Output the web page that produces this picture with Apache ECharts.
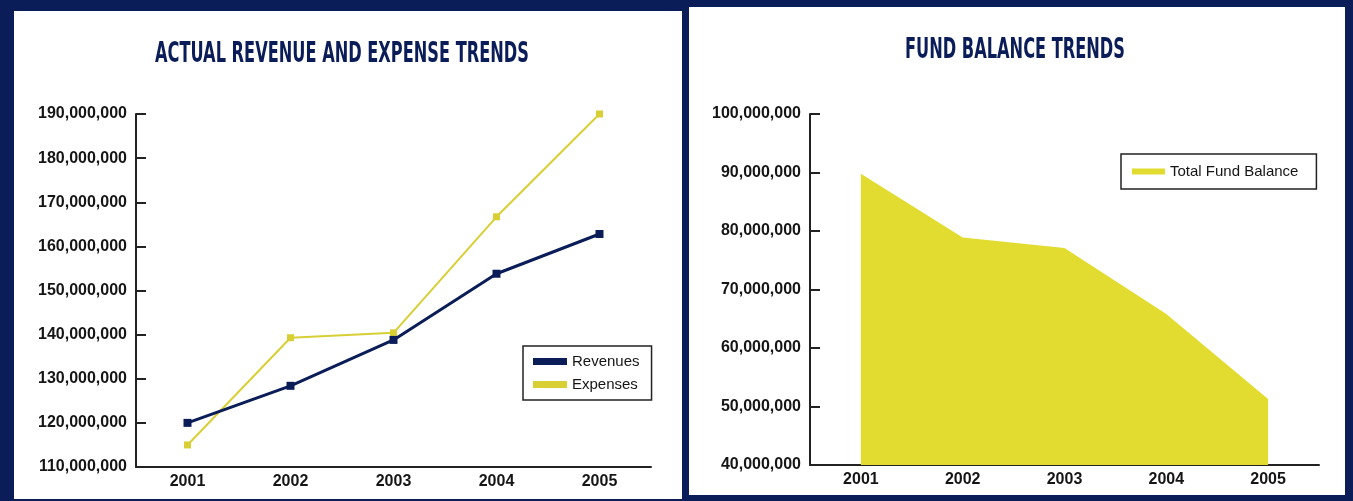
<!DOCTYPE html>
<html>
<head>
<meta charset="utf-8">
<script src="https://cdn.jsdelivr.net/npm/echarts@6/dist/echarts.min.js"></script>
<style>
  html, body { margin: 0; padding: 0; background: #0b1d58; }
  .panel { position: absolute; background: #fff; }
  #main { position: absolute; left: 0; top: 0; width: 1353px; height: 501px; }
</style>
</head>
<body>
<div class="panel" style="left:14px;top:11px;width:668px;height:488px"></div>
<div class="panel" style="left:689px;top:7px;width:656px;height:488px"></div>
<div id="main"></div>
<script>
// data
var years = ['2001', '2002', '2003', '2004', '2005'];
var revenues = [120000000, 128400000, 138800000, 153800000, 162800000];
var expenses = [115000000, 139300000, 140400000, 166700000, 190000000];
var fundBalance = [89800000, 78900000, 77100000, 65800000, 51300000];
var leftTicks = [110000000, 190000000, 10000000];   // min, max, step
var rightTicks = [40000000, 100000000, 10000000];

var navy = '#0b1d58';
var yellowLine = '#d8cf35';
var yellowArea = '#e2dc30';
var labelFont = { color: '#151515', fontSize: 16, fontWeight: 'bold', fontFamily: 'Liberation Sans, Arial, sans-serif' };

function commas(v) {
    return String(v).replace(/\B(?=(\d{3})+(?!\d))/g, ',');
}

var myChart = echarts.init(document.getElementById('main'), null, { renderer: 'canvas' });

function xAxisFor(gridIndex) {
    return {
        type: 'category',
        gridIndex: gridIndex,
        data: years,
        boundaryGap: true,
        axisLine: { lineStyle: { color: '#222', width: 2 } },
        axisTick: { inside: true, length: 7, lineStyle: { color: '#222', width: 2 } },
        axisLabel: Object.assign({ margin: 7 }, labelFont)
    };
}

function yAxisFor(gridIndex, ticks) {
    return {
        type: 'value',
        gridIndex: gridIndex,
        min: ticks[0],
        max: ticks[1],
        interval: ticks[2],
        splitLine: { show: false },
        axisLine: { show: true, lineStyle: { color: '#222', width: 2 } },
        axisTick: { show: true, inside: true, length: 10, lineStyle: { color: '#222', width: 2 } },
        axisLabel: Object.assign({ margin: 9, formatter: commas }, labelFont)
    };
}

function titleText(text, x, y) {
    return {
        type: 'text',
        x: x,
        y: y,
        scaleY: 1.6,
        style: {
            text: text,
            x: 0,
            y: 0,
            align: 'center',
            verticalAlign: 'middle',
            fill: navy,
            font: 'bold 18px "DejaVu Sans Condensed", sans-serif'
        }
    };
}

var option = {
    backgroundColor: 'transparent',
    animation: false,
    graphic: [
        titleText('ACTUAL REVENUE AND EXPENSE TRENDS', 342, 55),
        titleText('FUND BALANCE TRENDS', 1015, 51)
    ],
    grid: [
        { left: 136, top: 114, width: 515, height: 353 },
        { left: 810, top: 114, width: 509, height: 351 }
    ],
    xAxis: [xAxisFor(0), xAxisFor(1)],
    yAxis: [yAxisFor(0, leftTicks), yAxisFor(1, rightTicks)],
    legend: [
        {
            data: ['Revenues', 'Expenses'],
            orient: 'vertical',
            left: 523,
            top: 346,
            padding: [8, 12, 8, 10],
            itemGap: 8,
            itemWidth: 34,
            itemHeight: 7,
            icon: 'rect',
            backgroundColor: '#fff',
            borderColor: '#222',
            borderWidth: 1.5,
            borderRadius: 0,
            textStyle: { color: '#151515', fontSize: 15, fontFamily: 'Liberation Sans, Arial, sans-serif' }
        },
        {
            data: ['Total Fund Balance'],
            orient: 'vertical',
            left: 1121,
            top: 154,
            padding: [10, 18, 10, 11],
            itemWidth: 33,
            itemHeight: 6,
            icon: 'rect',
            backgroundColor: '#fff',
            borderColor: '#222',
            borderWidth: 1.5,
            borderRadius: 0,
            textStyle: { color: '#151515', fontSize: 15, fontFamily: 'Liberation Sans, Arial, sans-serif' }
        }
    ],
    series: [
        {
            name: 'Revenues',
            type: 'line',
            xAxisIndex: 0,
            yAxisIndex: 0,
            data: revenues,
            color: navy,
            symbol: 'rect',
            symbolSize: 8,
            lineStyle: { width: 3, color: navy },
            itemStyle: { color: navy },
            z: 3
        },
        {
            name: 'Expenses',
            type: 'line',
            xAxisIndex: 0,
            yAxisIndex: 0,
            data: expenses,
            color: yellowLine,
            symbol: 'rect',
            symbolSize: 7,
            lineStyle: { width: 2, color: yellowLine },
            itemStyle: { color: yellowLine },
            z: 2
        },
        {
            name: 'Total Fund Balance',
            type: 'line',
            xAxisIndex: 1,
            yAxisIndex: 1,
            data: fundBalance,
            color: yellowArea,
            showSymbol: false,
            symbol: 'none',
            lineStyle: { width: 0, color: yellowArea },
            areaStyle: { color: yellowArea, opacity: 1, origin: 'start' },
            itemStyle: { color: yellowArea }
        }
    ]
};

myChart.setOption(option);
</script>
</body>
</html>
